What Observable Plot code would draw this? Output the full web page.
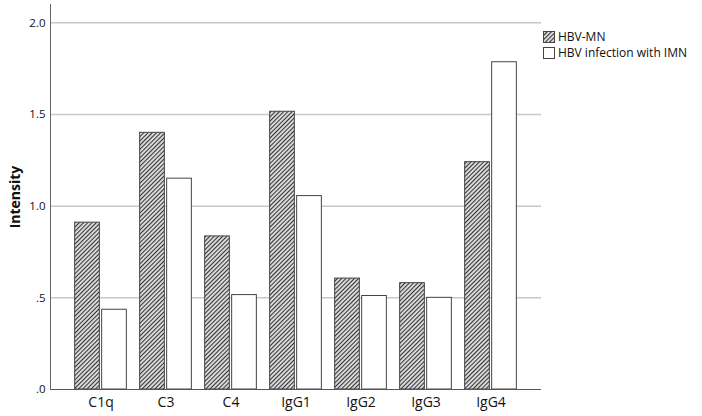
<!DOCTYPE html>
<html>
<head>
<meta charset="utf-8">
<script src="https://cdn.jsdelivr.net/npm/d3@7"></script>
<script src="https://cdn.jsdelivr.net/npm/@observablehq/plot@0.6"></script>
<style>
  html, body { margin: 0; padding: 0; background: #fff; }
  #wrap { position: relative; width: 702px; height: 416px; font-family: "Open Sans", "Noto Sans", sans-serif; }
  #legend { position: absolute; left: 543px; top: 29px; font-size: 12px; color: #111; line-height: 16px; }
  #legend .row { display: flex; align-items: center; height: 16px; }
  #legend svg { margin-right: 3px; }
  svg [aria-label="y-axis label"] { font-weight: bold; font-size: 14px; }
</style>
</head>
<body>
<div id="wrap"></div>
<script>
const categories = ["C1q", "C3", "C4", "IgG1", "IgG2", "IgG3", "IgG4"];
const seriesNames = ["HBV-MN", "HBV infection with IMN"];
const hbvMN = [0.91, 1.40, 0.835, 1.515, 0.605, 0.58, 1.24];
const hbvIMN = [0.435, 1.15, 0.515, 1.055, 0.51, 0.50, 1.785];
const yTicks = [0, 0.5, 1.0, 1.5, 2.0];
const yTickLabels = [".0", ".5", "1.0", "1.5", "2.0"];

const dataMN = categories.map((c, i) => ({cat: c, v: hbvMN[i]}));
const dataIMN = categories.map((c, i) => ({cat: c, v: hbvIMN[i]}));

const W = 702, H = 416;
const mL = 50, mR = 161, mT = 4, mB = 27;
const outer = 0.26;
const step = (W - mL - mR) / (categories.length + 2 * outer);
const half = step / 2;
const barW = 25, gap = 1;

const chart = Plot.plot({
  width: W,
  height: H,
  marginLeft: mL,
  marginRight: mR,
  marginTop: mT,
  marginBottom: mB,
  style: {fontFamily: '"Open Sans", "Noto Sans", sans-serif', background: "#fff", color: "#111"},
  x: {domain: categories, paddingInner: 0, paddingOuter: outer, label: null},
  y: {domain: [0, 2.1], label: null},
  marks: [
    Plot.ruleY(yTicks.filter(d => d > 0), {stroke: "#c8c8c8", strokeWidth: 1.5}),
    Plot.barY(dataMN, {x: "cat", y: "v", fill: "url(#hatch)", stroke: "#444", strokeWidth: 1,
      insetLeft: half - gap - barW, insetRight: half + gap}),
    Plot.barY(dataIMN, {x: "cat", y: "v", fill: "#fff", stroke: "#444", strokeWidth: 1,
      insetLeft: half + gap, insetRight: half - gap - barW}),
    Plot.ruleY([0], {stroke: "#555", strokeWidth: 1}),
    Plot.frame({anchor: "left", stroke: "#666", strokeWidth: 1}),
    Plot.axisX({tickSize: 0, tickPadding: 8, fontSize: 14, label: null}),
    Plot.axisY({ticks: yTicks, tickFormat: (d) => yTickLabels[yTicks.indexOf(d)], tickSize: 0, tickPadding: 5,
      fontSize: 11.5, label: "Intensity", labelAnchor: "center", labelArrow: "none", labelOffset: 40})
  ]
});

const ns = "http://www.w3.org/2000/svg";
const defs = document.createElementNS(ns, "defs");
defs.innerHTML = `<pattern id="hatch" patternUnits="userSpaceOnUse" width="3" height="3" patternTransform="rotate(45)">
  <rect width="3" height="3" fill="#dcdcdc"></rect>
  <line x1="0.5" y1="0" x2="0.5" y2="3" stroke="#333" stroke-width="1.1"></line>
</pattern>`;
chart.insertBefore(defs, chart.firstChild);

const wrap = document.getElementById("wrap");
wrap.appendChild(chart);

const legend = document.createElement("div");
legend.id = "legend";
const swatches = [
  `<svg width="12" height="12"><defs><pattern id="hatch2" patternUnits="userSpaceOnUse" width="3" height="3" patternTransform="rotate(45)"><rect width="3" height="3" fill="#dcdcdc"></rect><line x1="0.5" y1="0" x2="0.5" y2="3" stroke="#333" stroke-width="1.1"></line></pattern></defs><rect x="0.5" y="0.5" width="11" height="11" fill="url(#hatch2)" stroke="#444"></rect></svg>`,
  `<svg width="12" height="12"><rect x="0.5" y="0.5" width="11" height="11" fill="#fff" stroke="#444"></rect></svg>`
];
seriesNames.forEach((name, i) => {
  const row = document.createElement("div");
  row.className = "row";
  row.innerHTML = swatches[i] + `<span>${name}</span>`;
  legend.appendChild(row);
});
wrap.appendChild(legend);
</script>
</body>
</html>
